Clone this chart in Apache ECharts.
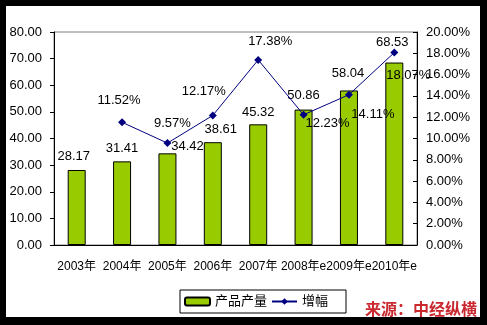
<!DOCTYPE html>
<html>
<head>
<meta charset="utf-8">
<script src="https://cdn.jsdelivr.net/npm/echarts@6/dist/echarts.min.js"></script>
<style>
  html, body { margin: 0; padding: 0; background: #000; }
  #chart { width: 487px; height: 325px; }
</style>
</head>
<body>
<div id="chart"></div>
<script>
// Categories and values
var years = ['2003年', '2004年', '2005年', '2006年', '2007年', '2008年e', '2009年e', '2010年e'];
var output = [28.17, 31.41, 34.42, 38.61, 45.32, 50.86, 58.04, 68.53];
var growth = [null, 11.52, 9.57, 12.17, 17.38, 12.23, 14.11, 18.07]; // percent

// Hand-placed label nudges [dx, dy] for each category
var barLabelNudge = [[-3, -7], [0, -6], [20, 0], [8, -6], [0, -5], [0, -8], [-1, -11], [-2, -14]];
var lineLabelNudge = [[0, 0], [-3, -22], [5, -20], [-9, -24], [12, -18], [24, 9], [24, 20], [14, 23]];

var FONT = '"Liberation Sans", Arial, "Noto Sans CJK SC", sans-serif';

var barData = output.map(function (v, i) {
  return { value: v, label: { offset: barLabelNudge[i] } };
});
var lineData = growth.map(function (v, i) {
  return { value: v, label: { offset: lineLabelNudge[i] } };
});

var chart = echarts.init(document.getElementById('chart'), null, { renderer: 'canvas' });
chart.setOption({
  backgroundColor: '#000',
  animation: false,
  textStyle: { fontFamily: FONT },
  graphic: [
    { type: 'rect', z: -10, shape: { x: 6, y: 6, width: 474, height: 311 }, style: { fill: '#fff' } },
    {
      type: 'text', z: 100, left: 365, top: 301,
      style: { text: '来源：中经纵横', fill: '#C8282E', font: 'bold 16px "Noto Sans CJK SC", sans-serif' }
    }
  ],
  grid: {
    left: 54, top: 32, right: 70, bottom: 80,
    show: true, borderColor: '#808080', borderWidth: 1, backgroundColor: 'transparent'
  },
  legend: {
    left: 180, top: 290,
    padding: [5, 18, 5, 4],
    itemGap: 4,
    itemWidth: 25, itemHeight: 8,
    borderColor: '#000', borderWidth: 1,
    textStyle: { fontSize: 13, color: '#000', fontFamily: FONT },
    data: ['产品产量', '增幅']
  },
  xAxis: {
    type: 'category',
    data: years,
    boundaryGap: true,
    axisLine: { lineStyle: { color: '#000', width: 1 } },
    axisTick: { inside: true, length: 4, lineStyle: { color: '#000' } },
    axisLabel: { interval: 0, color: '#000', fontSize: 12, margin: 16, fontFamily: FONT },
    splitLine: { show: false }
  },
  yAxis: [
    {
      type: 'value', min: 0, max: 80, interval: 10,
      axisLine: { show: true, lineStyle: { color: '#000' } },
      axisTick: { show: true, inside: false, length: 4, lineStyle: { color: '#000' } },
      axisLabel: { color: '#000', fontSize: 13, margin: 12, fontFamily: FONT,
        formatter: function (v) { return v.toFixed(2); } },
      splitLine: { show: false }
    },
    {
      type: 'value', min: 0, max: 20, interval: 2, position: 'right',
      axisLine: { show: true, lineStyle: { color: '#000' } },
      axisTick: { show: true, inside: true, length: 4, lineStyle: { color: '#000' } },
      axisLabel: { color: '#000', fontSize: 13, margin: 9, fontFamily: FONT,
        formatter: function (v) { return v.toFixed(2) + '%'; } },
      splitLine: { show: false }
    }
  ],
  series: [
    {
      name: '产品产量',
      type: 'bar',
      data: barData,
      barWidth: 18,
      itemStyle: { color: '#99CC00', borderColor: '#000', borderWidth: 1 },
      label: {
        show: true, position: 'top', distance: 0,
        color: '#000', fontSize: 13, fontFamily: FONT,
        formatter: function (p) { return p.value.toFixed(2); }
      }
    },
    {
      name: '增幅',
      type: 'line',
      yAxisIndex: 1,
      data: lineData,
      symbol: 'diamond',
      symbolSize: 8,
      lineStyle: { color: '#000080', width: 1 },
      itemStyle: { color: '#000080' },
      label: {
        show: true, position: 'inside',
        color: '#000', fontSize: 13, fontFamily: FONT,
        formatter: function (p) { return p.value.toFixed(2) + '%'; }
      }
    }
  ]
});
</script>
</body>
</html>
